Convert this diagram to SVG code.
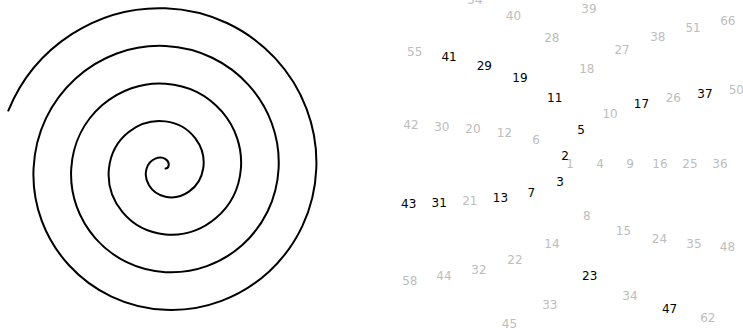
<svg xmlns="http://www.w3.org/2000/svg" width="743" height="332" viewBox="0 0 743 332">
<style>
text{font-family:"DejaVu Sans","Liberation Sans",sans-serif;font-size:12px;text-anchor:middle}
.p{fill:#000}
.c{fill:#bdbdbd}
.sp{fill:none;stroke:#000;stroke-width:2;stroke-linecap:round}
</style>
<rect width="743" height="332" fill="#fff"/>
<g id="spiral">
<path class="sp" d="M165.5,168.5 C168.81,168.5 170.71,162.39 165.5,159.08 C160.3,155.76 149.96,158.09 146.65,168.5 C143.34,178.91 149.88,193.46 165.5,196.77 C181.12,200.09 199.89,189.32 203.2,168.5 C206.51,147.68 191.53,124.69 165.5,121.38 C139.47,118.06 112.26,137.27 108.95,168.5 C105.64,199.73 129.06,231.16 165.5,234.47 C201.94,237.79 237.58,210.14 240.9,168.5 C244.21,126.86 212.35,86.99 165.5,83.68 C118.65,80.36 74.56,116.45 71.25,168.5 C67.94,220.55 108.24,268.86 165.5,272.17 C222.76,275.49 275.29,230.96 278.6,168.5 C281.91,106.04 233.17,49.29 165.5,45.98 C97.83,42.66 36.86,95.63 33.55,168.5 C30.24,241.37 87.42,306.56 165.5,309.87 C243.58,313.19 312.99,251.79 316.3,168.5 C319.61,85.22 253.99,11.59 165.5,8.28 C98.51,5.77 34.91,45.73 8.34,110.58"/>
</g>
<g id="numbers">
<text class="c" x="570" y="168.4">1</text>
<text class="p" x="565" y="159.7">2</text>
<text class="p" x="560" y="185.7">3</text>
<text class="c" x="600" y="168.4">4</text>
<text class="p" x="581.1" y="134.2">5</text>
<text class="c" x="536" y="143.7">6</text>
<text class="p" x="531.2" y="196.6">7</text>
<text class="c" x="586.7" y="219.8">8</text>
<text class="c" x="630" y="168.4">9</text>
<text class="c" x="610.1" y="118.1">10</text>
<text class="p" x="554.7" y="101.6">11</text>
<text class="c" x="504.4" y="136.8">12</text>
<text class="p" x="500.5" y="201.9">13</text>
<text class="c" x="551.9" y="247.8">14</text>
<text class="c" x="623.4" y="235.4">15</text>
<text class="c" x="660" y="168.4">16</text>
<text class="p" x="641.5" y="108.4">17</text>
<text class="c" x="586.8" y="73.2">18</text>
<text class="p" x="520" y="81.8">19</text>
<text class="c" x="472.9" y="133.1">20</text>
<text class="c" x="469.8" y="204.9">21</text>
<text class="c" x="515" y="263.7">22</text>
<text class="p" x="589.7" y="280">23</text>
<text class="c" x="659.4" y="243.4">24</text>
<text class="c" x="690" y="168.4">25</text>
<text class="c" x="673.3" y="102.1">26</text>
<text class="c" x="622.1" y="54.3">27</text>
<text class="c" x="551.8" y="41.5">28</text>
<text class="p" x="484.3" y="69.5">29</text>
<text class="c" x="441.8" y="130.8">30</text>
<text class="p" x="439.2" y="206.8">31</text>
<text class="c" x="478.9" y="273.5">32</text>
<text class="c" x="549.8" y="308.8">33</text>
<text class="c" x="630" y="299.9">34</text>
<text class="c" x="693.9" y="248">35</text>
<text class="c" x="720" y="168.4">36</text>
<text class="p" x="704.9" y="97.6">37</text>
<text class="c" x="657.8" y="41.1">38</text>
<text class="c" x="588.9" y="12.6">39</text>
<text class="c" x="513.5" y="19.5">40</text>
<text class="p" x="449.1" y="61.3">41</text>
<text class="c" x="410.9" y="129.2">42</text>
<text class="p" x="408.7" y="208.2">43</text>
<text class="c" x="443.9" y="280.1">44</text>
<text class="c" x="509.4" y="328.1">45</text>
<text class="p" x="669.6" y="312.7">47</text>
<text class="c" x="727.4" y="251">48</text>
<text class="c" x="736.3" y="94.4">50</text>
<text class="c" x="693.1" y="31.7">51</text>
<text class="c" x="475" y="3.9">54</text>
<text class="c" x="414.7" y="55.5">55</text>
<text class="c" x="409.8" y="284.8">58</text>
<text class="c" x="707.8" y="321.5">62</text>
<text class="c" x="727.8" y="24.5">66</text>
</g>
</svg>
